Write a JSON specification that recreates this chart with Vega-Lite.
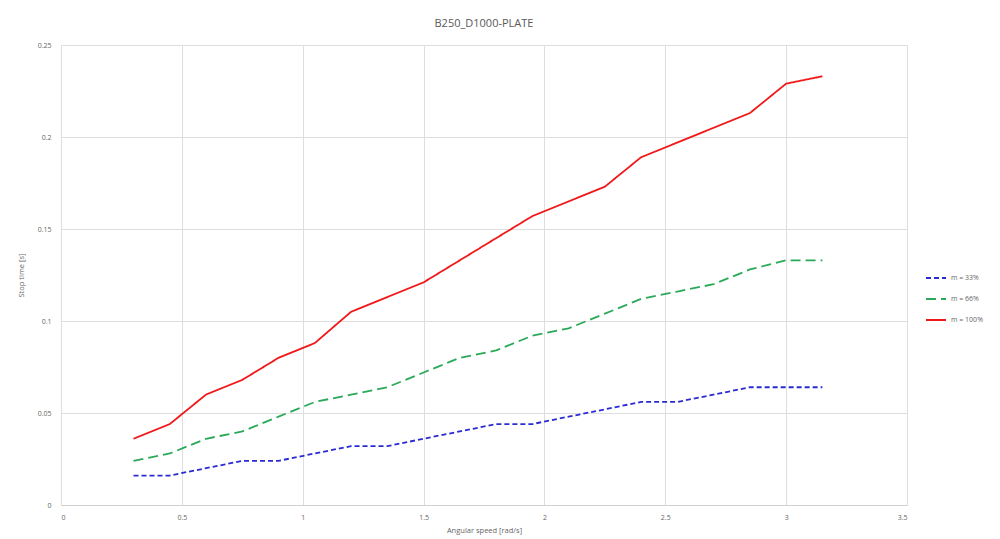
{
  "$schema": "https://vega.github.io/schema/vega-lite/v6.json",
  "width": 846,
  "height": 460,
  "autosize": {"type": "none"},
  "padding": {"left": 61, "top": 45, "right": 93, "bottom": 34},
  "background": "white",
  "title": {"text": "B250_D1000-PLATE", "font": "Open Sans", "fontSize": 11, "fontWeight": "normal", "color": "#595959", "offset": 12, "anchor": "middle"},
  "config": {
    "view": {"stroke": null},
    "axis": {"labelFont": "Open Sans", "labelFontSize": 7, "labelColor": "#666666", "titleFont": "Open Sans", "titleFontSize": 7.5, "titleFontWeight": "normal", "titleColor": "#666666", "gridColor": "#dedede", "gridWidth": 1, "ticks": false, "domain": false, "format": "~g"}
  },
  "data": {"values": [
    {"w":0.3,"s":"m = 33%","t":0.016},{"w":0.45,"s":"m = 33%","t":0.016},{"w":0.6,"s":"m = 33%","t":0.020},{"w":0.75,"s":"m = 33%","t":0.024},{"w":0.9,"s":"m = 33%","t":0.024},{"w":1.05,"s":"m = 33%","t":0.028},{"w":1.2,"s":"m = 33%","t":0.032},{"w":1.35,"s":"m = 33%","t":0.032},{"w":1.5,"s":"m = 33%","t":0.036},{"w":1.65,"s":"m = 33%","t":0.040},{"w":1.8,"s":"m = 33%","t":0.044},{"w":1.95,"s":"m = 33%","t":0.044},{"w":2.1,"s":"m = 33%","t":0.048},{"w":2.25,"s":"m = 33%","t":0.052},{"w":2.4,"s":"m = 33%","t":0.056},{"w":2.55,"s":"m = 33%","t":0.056},{"w":2.7,"s":"m = 33%","t":0.060},{"w":2.85,"s":"m = 33%","t":0.064},{"w":3.0,"s":"m = 33%","t":0.064},{"w":3.15,"s":"m = 33%","t":0.064},
    {"w":0.3,"s":"m = 66%","t":0.024},{"w":0.45,"s":"m = 66%","t":0.028},{"w":0.6,"s":"m = 66%","t":0.036},{"w":0.75,"s":"m = 66%","t":0.040},{"w":0.9,"s":"m = 66%","t":0.048},{"w":1.05,"s":"m = 66%","t":0.056},{"w":1.2,"s":"m = 66%","t":0.060},{"w":1.35,"s":"m = 66%","t":0.064},{"w":1.5,"s":"m = 66%","t":0.072},{"w":1.65,"s":"m = 66%","t":0.080},{"w":1.8,"s":"m = 66%","t":0.084},{"w":1.95,"s":"m = 66%","t":0.092},{"w":2.1,"s":"m = 66%","t":0.096},{"w":2.25,"s":"m = 66%","t":0.104},{"w":2.4,"s":"m = 66%","t":0.112},{"w":2.55,"s":"m = 66%","t":0.116},{"w":2.7,"s":"m = 66%","t":0.120},{"w":2.85,"s":"m = 66%","t":0.128},{"w":3.0,"s":"m = 66%","t":0.133},{"w":3.15,"s":"m = 66%","t":0.133},
    {"w":0.3,"s":"m = 100%","t":0.036},{"w":0.45,"s":"m = 100%","t":0.044},{"w":0.6,"s":"m = 100%","t":0.060},{"w":0.75,"s":"m = 100%","t":0.068},{"w":0.9,"s":"m = 100%","t":0.080},{"w":1.05,"s":"m = 100%","t":0.088},{"w":1.2,"s":"m = 100%","t":0.105},{"w":1.35,"s":"m = 100%","t":0.113},{"w":1.5,"s":"m = 100%","t":0.121},{"w":1.65,"s":"m = 100%","t":0.133},{"w":1.8,"s":"m = 100%","t":0.145},{"w":1.95,"s":"m = 100%","t":0.157},{"w":2.1,"s":"m = 100%","t":0.165},{"w":2.25,"s":"m = 100%","t":0.173},{"w":2.4,"s":"m = 100%","t":0.189},{"w":2.55,"s":"m = 100%","t":0.197},{"w":2.7,"s":"m = 100%","t":0.205},{"w":2.85,"s":"m = 100%","t":0.213},{"w":3.0,"s":"m = 100%","t":0.229},{"w":3.15,"s":"m = 100%","t":0.233}
  ]},
  "mark": {"type": "line", "strokeWidth": 1.8},
  "encoding": {
    "x": {"field": "w", "type": "quantitative", "title": "Angular speed [rad/s]", "scale": {"domain": [0, 3.5], "nice": false}, "axis": {"values": [0,0.5,1,1.5,2,2.5,3,3.5], "format": "~g", "labelPadding": 8, "titlePadding": 6, "domain": true, "domainColor": "#d0d0d0"}},
    "y": {"field": "t", "type": "quantitative", "title": "Stop time [s]", "scale": {"domain": [0, 0.25], "nice": false}, "axis": {"values": [0,0.05,0.1,0.15,0.2,0.25], "format": "~g", "labelPadding": 10, "titlePadding": 12}},
    "color": {"field": "s", "type": "nominal", "scale": {"domain": ["m = 33%","m = 66%","m = 100%"], "range": ["#2b2bd4", "#2aa958", "#f01818"]},
      "legend": {"title": null, "orient": "none", "legendX": 864, "legendY": 222, "symbolType": "stroke", "symbolStrokeWidth": 2, "symbolSize": 400, "labelFont": "Open Sans", "labelFontSize": 7, "labelColor": "#666666", "rowPadding": 6}},
    "strokeDash": {"field": "s", "type": "nominal", "scale": {"domain": ["m = 33%","m = 66%","m = 100%"], "range": [[5,3],[10,5],[1,0]]}, "legend": null}
  }
}
